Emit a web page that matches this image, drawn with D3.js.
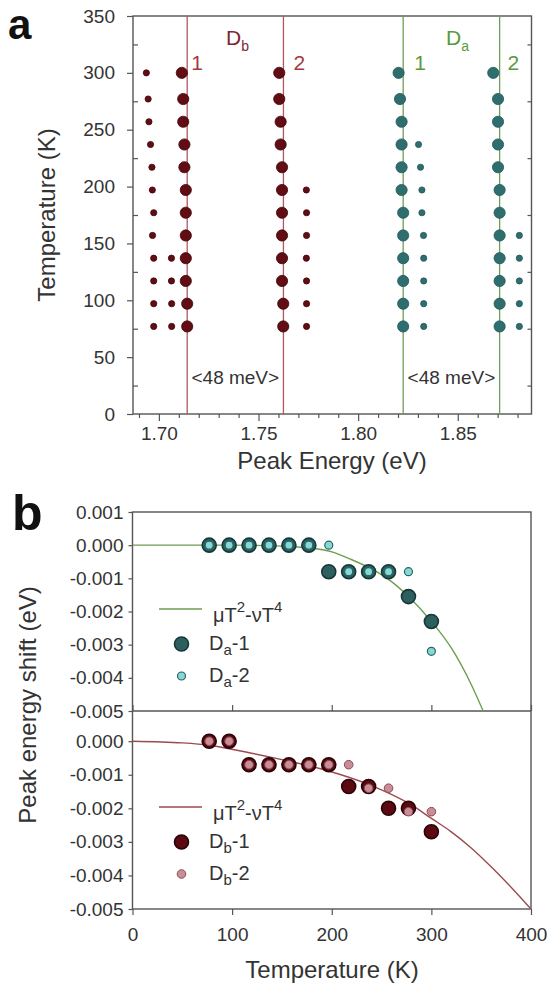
<!DOCTYPE html>
<html>
<head>
<meta charset="utf-8">
<script src="https://cdn.jsdelivr.net/npm/d3@7"></script>
<style>
  body { margin: 0; background: #fff; }
  text { font-family: "Liberation Sans", Arial, sans-serif; }
</style>
</head>
<body>
<svg id="chart" width="547" height="990"></svg>
<script>
// ---------- panel a : peak energy (eV) against temperature (K)
const temps = [77, 97, 117, 137, 157, 177, 197, 217, 237, 257, 277, 300];
const dbOuter = [1.6974, 1.6974, 1.6974, 1.6974, 1.6968, 1.6974, 1.6967, 1.6965, 1.6958, 1.6950, 1.6946, 1.6937];
const dbInnerTemps = [77, 97, 117, 137];
const dbInner = [1.7064, 1.7064, 1.7063, 1.7063];
const db1Peak = [1.7142, 1.7142, 1.7135, 1.7135, 1.7135, 1.7135, 1.7135, 1.7128, 1.7128, 1.7122, 1.7122, 1.7115];
const db2Peak = [1.7624, 1.7624, 1.7618, 1.7618, 1.7618, 1.7618, 1.7618, 1.7618, 1.7611, 1.7611, 1.7604, 1.7604];
const dbSideTemps = [77, 97, 117, 137, 157, 177, 197];
const dbSide = [1.7741, 1.7741, 1.7741, 1.7740, 1.7741, 1.7741, 1.7740];
const da1Peak = [1.8226, 1.8226, 1.8226, 1.8226, 1.8226, 1.8226, 1.8218, 1.8218, 1.8218, 1.8218, 1.8210, 1.8203];
const da1SideTemps = [77, 97, 117, 137, 157, 177, 197, 217, 237];
const da1Side = [1.8329, 1.8329, 1.8329, 1.8329, 1.8328, 1.8320, 1.8320, 1.8313, 1.8303];
const da2Peak = [1.8710, 1.8710, 1.8710, 1.8710, 1.8710, 1.8710, 1.8710, 1.8702, 1.8702, 1.8702, 1.8702, 1.8678];
const da2SideTemps = [77, 97, 117, 137, 157];
const da2Side = [1.8809, 1.8809, 1.8809, 1.8809, 1.8809];
const dbLines = [1.7142, 1.7625];
const daLines = [1.8226, 1.8710];

const energyTicks = [1.70, 1.75, 1.80, 1.85];
const energyMinor = [1.69, 1.71, 1.72, 1.73, 1.74, 1.76, 1.77, 1.78, 1.79, 1.81, 1.82, 1.83, 1.84, 1.86, 1.87, 1.88];
const tempTicksA = [0, 50, 100, 150, 200, 250, 300, 350];
const tempMinorA = [25, 75, 125, 175, 225, 275, 325];

// ---------- panel b : peak energy shift (eV) against temperature (K)
const da1Shift = [0, 0, 0, 0, 0, 0, -0.0008, -0.0008, -0.0008, -0.0008, -0.00155, -0.0023];
const da2Shift = [0, 0, 0, 0, 0, 0, 0, -0.0008, -0.0008, -0.0008, -0.0008, -0.0032];
const db1Shift = [0, 0, -0.0007, -0.0007, -0.0007, -0.0007, -0.0007, -0.00135, -0.00135, -0.002, -0.002, -0.0027];
const db2Shift = [0, 0, -0.0007, -0.0007, -0.0007, -0.0007, -0.0007, -0.0007, -0.0014, -0.0014, -0.0021, -0.0021];
// fitted curves mu*T^2 - nu*T^4
const fitTempA = [0, 50, 100, 150, 182, 200, 217, 245, 260, 277, 300, 320, 340, 352];
const fitShiftA = [0, 0, 0, -0.00003, -0.0001, -0.0002, -0.0004, -0.0008, -0.0011, -0.00155, -0.0023, -0.0031, -0.0042, -0.005];
const fitTempB = [0, 50, 77, 115, 150, 196, 238, 280, 300, 320, 340, 362, 380, 400];
const fitShiftB = [0, -0.00005, -0.00012, -0.00033, -0.00055, -0.00088, -0.0013, -0.0019, -0.0023, -0.0027, -0.00318, -0.0038, -0.00435, -0.005];

const shiftTicksA = [0.001, 0, -0.001, -0.002, -0.003, -0.004, -0.005];
const shiftTicksB = [0, -0.001, -0.002, -0.003, -0.004, -0.005];
const tempTicksB = [0, 100, 200, 300, 400];

const FONT = '"Liberation Sans", Arial, sans-serif';
const AXIS = "#555";
const TXT = "#333";

const svg = d3.select("#chart");

function styleAxis(g) {
    g.select(".domain").remove();
    g.attr("font-size", 19).attr("font-family", FONT).attr("color", TXT);
    g.selectAll(".tick line").attr("stroke", AXIS).attr("stroke-width", 1.2);
}

// ================= panel a =================
const xA = d3.scaleLinear().domain([1.687, 1.887]).range([133, 531.5]);
const yA = d3.scaleLinear().domain([0, 350]).range([414, 16]);

svg.append("g").attr("transform", "translate(133,0)")
    .call(d3.axisLeft(yA).tickValues(tempTicksA).tickSize(6).tickPadding(12))
    .call(styleAxis);
svg.append("g").attr("transform", "translate(133,0)")
    .call(d3.axisLeft(yA).tickValues(tempMinorA).tickSize(-5).tickFormat(""))
    .call(styleAxis);
svg.append("g").attr("transform", "translate(531.5,0)")
    .call(d3.axisRight(yA).tickValues(tempMinorA).tickSize(-4).tickFormat(""))
    .call(styleAxis);
svg.append("g").attr("transform", "translate(0,414)")
    .call(d3.axisBottom(xA).tickValues(energyTicks).tickSize(7).tickPadding(6).tickFormat(d3.format(".2f")))
    .call(styleAxis);
svg.append("g").attr("transform", "translate(0,414)")
    .call(d3.axisBottom(xA).tickValues(energyMinor).tickSize(4).tickFormat(""))
    .call(styleAxis);

svg.append("rect")
    .attr("x", 133).attr("y", 16).attr("width", 398.5).attr("height", 398)
    .attr("fill", "none").attr("stroke", AXIS).attr("stroke-width", 1.4);

// vertical peak lines
svg.selectAll(".dbline").data(dbLines).enter().append("line")
    .attr("x1", d => xA(d)).attr("x2", d => xA(d))
    .attr("y1", yA(0)).attr("y2", yA(350))
    .attr("stroke", "#b0585f").attr("stroke-width", 1.3);
svg.selectAll(".daline").data(daLines).enter().append("line")
    .attr("x1", d => xA(d)).attr("x2", d => xA(d))
    .attr("y1", yA(0)).attr("y2", yA(350))
    .attr("stroke", "#6f9d5a").attr("stroke-width", 1.3);

function dotsA(xs, ts, r, fill, stroke) {
    svg.append("g").selectAll("circle")
        .data(d3.zip(xs, ts)).enter().append("circle")
        .attr("cx", d => xA(d[0])).attr("cy", d => yA(d[1])).attr("r", r)
        .attr("fill", fill).attr("stroke", stroke).attr("stroke-width", 0.8);
}
const DB_DOT = "#620c14", DB_EDGE = "#3f0509";
const DA_DOT = "#2f6e6e", DA_EDGE = "#245757";
dotsA(dbOuter, temps, 3.1, DB_DOT, DB_EDGE);
dotsA(dbInner, dbInnerTemps, 3.1, DB_DOT, DB_EDGE);
dotsA(db1Peak, temps, 5.6, DB_DOT, DB_EDGE);
dotsA(db2Peak, temps, 5.6, DB_DOT, DB_EDGE);
dotsA(dbSide, dbSideTemps, 3.1, DB_DOT, DB_EDGE);
dotsA(da1Peak, temps, 5.6, DA_DOT, DA_EDGE);
dotsA(da1Side, da1SideTemps, 3.1, DA_DOT, DA_EDGE);
dotsA(da2Peak, temps, 5.6, DA_DOT, DA_EDGE);
dotsA(da2Side, da2SideTemps, 3.1, DA_DOT, DA_EDGE);

// labels on panel a
function labelD(x, sub, color) {
    const t = svg.append("text").attr("x", x).attr("y", 45)
        .attr("font-size", 21).attr("fill", color);
    t.append("tspan").text("D");
    t.append("tspan").attr("font-size", 14).attr("dy", 6).text(sub);
}
labelD(226, "b", "#7d2630");
labelD(446, "a", "#5b9a3c");

const peakNums = [
    { x: xA(dbLines[0]) + 4, t: "1", c: "#a33a40" },
    { x: xA(dbLines[1]) + 10, t: "2", c: "#a33a40" },
    { x: xA(daLines[0]) + 11, t: "1", c: "#5b9a3c" },
    { x: xA(daLines[1]) + 8, t: "2", c: "#5b9a3c" }
];
svg.selectAll(".pnum").data(peakNums).enter().append("text")
    .attr("x", d => d.x).attr("y", 70)
    .attr("font-size", 21).attr("fill", d => d.c).text(d => d.t);

[dbLines, daLines].forEach(pair => {
    svg.append("text")
        .attr("x", (xA(pair[0]) + xA(pair[1])) / 2).attr("y", 384)
        .attr("text-anchor", "middle").attr("font-size", 19).attr("fill", TXT)
        .text("<48 meV>");
});

svg.append("text").attr("x", 332).attr("y", 469)
    .attr("text-anchor", "middle").attr("font-size", 24).attr("fill", TXT)
    .text("Peak Energy (eV)");
svg.append("text").attr("transform", "translate(55,215) rotate(-90)")
    .attr("text-anchor", "middle").attr("font-size", 24).attr("fill", TXT)
    .text("Temperature (K)");
svg.append("text").attr("x", 8).attr("y", 39)
    .attr("font-size", 42).attr("font-weight", "bold").attr("fill", "#111").text("a");

// ================= panel b =================
const xB = d3.scaleLinear().domain([0, 400]).range([132.5, 531]);
const yBa = d3.scaleLinear().domain([-0.005, 0.001]).range([711, 512]);
const yBb = d3.scaleLinear().domain([-0.005, 0.0009]).range([909, 711]);
const fmt = d => d.toFixed(3);

svg.append("g").attr("transform", "translate(132.5,0)")
    .call(d3.axisLeft(yBa).tickValues(shiftTicksA).tickSize(4).tickPadding(5).tickFormat(fmt))
    .call(styleAxis);
svg.append("g").attr("transform", "translate(132.5,0)")
    .call(d3.axisLeft(yBb).tickValues(shiftTicksB).tickSize(4).tickPadding(5).tickFormat(fmt))
    .call(styleAxis);
svg.append("g").attr("transform", "translate(0,711)")
    .call(d3.axisBottom(xB).tickValues(tempTicksB).tickSize(-6).tickFormat(""))
    .call(styleAxis);
svg.append("g").attr("transform", "translate(0,909)")
    .call(d3.axisBottom(xB).tickValues(tempTicksB).tickSize(6).tickPadding(13))
    .call(styleAxis);

svg.append("rect")
    .attr("x", 132.5).attr("y", 512).attr("width", 398.5).attr("height", 397)
    .attr("fill", "none").attr("stroke", AXIS).attr("stroke-width", 1.4);
svg.append("line").attr("x1", 132.5).attr("x2", 531).attr("y1", 711).attr("y2", 711)
    .attr("stroke", AXIS).attr("stroke-width", 1.4);

svg.append("clipPath").attr("id", "clipUp").append("rect")
    .attr("x", 132.5).attr("y", 512).attr("width", 398.5).attr("height", 199);
svg.append("clipPath").attr("id", "clipLow").append("rect")
    .attr("x", 132.5).attr("y", 711).attr("width", 398.5).attr("height", 198);

const lineUp = d3.line().x(d => xB(d[0])).y(d => yBa(d[1])).curve(d3.curveMonotoneX);
const lineLow = d3.line().x(d => xB(d[0])).y(d => yBb(d[1])).curve(d3.curveMonotoneX);
const GREEN = "#6e9e50", RED = "#9c4a50";

svg.append("path").datum(d3.zip(fitTempA, fitShiftA)).attr("d", lineUp)
    .attr("clip-path", "url(#clipUp)")
    .attr("fill", "none").attr("stroke", GREEN).attr("stroke-width", 1.4);
svg.append("path").datum(d3.zip(fitTempB, fitShiftB)).attr("d", lineLow)
    .attr("clip-path", "url(#clipLow)")
    .attr("fill", "none").attr("stroke", RED).attr("stroke-width", 1.4);

const DA1 = { r: 7, fill: "#2d5f5f", stroke: "#163838", w: 1.6 };
const DA2 = { r: 4, fill: "#86d8d6", stroke: "#2a6464", w: 1.2 };
const DB1 = { r: 7, fill: "#5a0a10", stroke: "#2a0306", w: 1.6 };
const DB2 = { r: 4.3, fill: "#c88d96", stroke: "#8a4a55", w: 1 };

function dotsB(y, vals, st) {
    svg.append("g").selectAll("circle")
        .data(d3.zip(temps, vals)).enter().append("circle")
        .attr("cx", d => xB(d[0])).attr("cy", d => y(d[1])).attr("r", st.r)
        .attr("fill", st.fill).attr("stroke", st.stroke).attr("stroke-width", st.w);
}
dotsB(yBa, da1Shift, DA1);
dotsB(yBa, da2Shift, DA2);
dotsB(yBb, db1Shift, DB1);
dotsB(yBb, db2Shift, DB2);

// legends
function legend(y0, color, sub, big, small) {
    svg.append("line").attr("x1", 159).attr("x2", 202).attr("y1", y0).attr("y2", y0)
        .attr("stroke", color).attr("stroke-width", 1.4);
    const t = svg.append("text").attr("x", 213).attr("y", y0 + 13)
        .attr("font-size", 20).attr("fill", TXT);
    t.append("tspan").text("\u03bcT");
    t.append("tspan").attr("font-size", 15).attr("dy", -10).text("2");
    t.append("tspan").attr("dy", 10).text("-\u03bdT");
    t.append("tspan").attr("font-size", 15).attr("dy", -10).text("4");

    [[big, "-1", 35], [small, "-2", 67]].forEach(([st, suf, dy]) => {
        svg.append("circle").attr("cx", 181.5).attr("cy", y0 + dy).attr("r", st.r)
            .attr("fill", st.fill).attr("stroke", st.stroke).attr("stroke-width", st.w);
        const l = svg.append("text").attr("x", 209).attr("y", y0 + dy + 6)
            .attr("font-size", 20).attr("fill", TXT);
        l.append("tspan").text("D");
        l.append("tspan").attr("font-size", 15).attr("dy", 5).text(sub);
        l.append("tspan").attr("dy", -5).text(suf);
    });
}
legend(609, GREEN, "a", DA1, DA2);
legend(807, RED, "b", DB1, DB2);

svg.append("text").attr("x", 332).attr("y", 978)
    .attr("text-anchor", "middle").attr("font-size", 24).attr("fill", TXT)
    .text("Temperature (K)");
svg.append("text").attr("transform", "translate(36,705) rotate(-90)")
    .attr("text-anchor", "middle").attr("font-size", 24).attr("fill", TXT)
    .text("Peak energy shift (eV)");
svg.append("text").attr("x", 12).attr("y", 530)
    .attr("font-size", 50).attr("font-weight", "bold").attr("fill", "#111").text("b");
</script>
</body>
</html>
